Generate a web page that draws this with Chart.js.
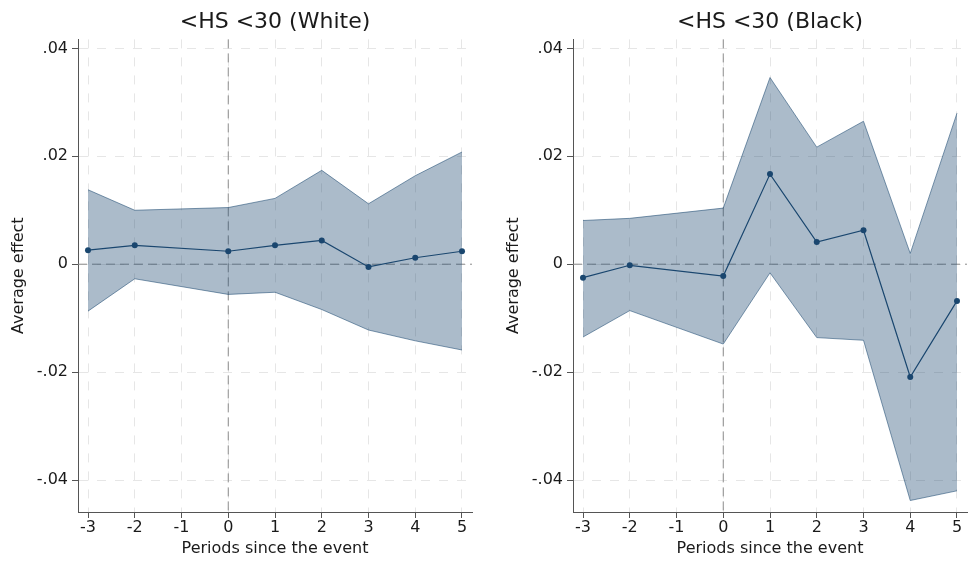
<!DOCTYPE html>
<html>
<head>
<meta charset="utf-8">
<script src="https://cdn.jsdelivr.net/npm/chart.js@4"></script>
<style>
  body { margin: 0; background: #fff; overflow: hidden; }
  .panel { position: absolute; top: 0; width: 476px; height: 563px; }
  #leftPanel { left: 0; }
  #rightPanel { left: 495px; }
</style>
</head>
<body>
<div class="panel" id="leftPanel"><canvas id="whiteChart" width="476" height="563"></canvas></div>
<div class="panel" id="rightPanel"><canvas id="blackChart" width="476" height="563"></canvas></div>
<script>
// Event-study estimates, period -1 is the omitted reference period
const periods = [-3, -2, 0, 1, 2, 3, 4, 5];
const xTicks = [-3, -2, -1, 0, 1, 2, 3, 4, 5];
const yTicks = [-0.04, -0.02, 0, 0.02, 0.04];
const yTickLabels = ['-.04', '-.02', '0', '.02', '.04'];

// <HS <30 (White)
const whiteEst = [0.0026, 0.0035, 0.0024, 0.0035, 0.0044, -0.0005, 0.0012, 0.0024];
const whiteLo = [-0.0087, -0.0027, -0.0056, -0.0052, -0.0084, -0.0122, -0.0142, -0.0159];
const whiteHi = [0.0138, 0.0100, 0.0105, 0.0122, 0.0174, 0.0112, 0.0164, 0.0208];

// <HS <30 (Black)
const blackEst = [-0.0025, -0.0002, -0.0022, 0.0167, 0.0041, 0.0063, -0.0209, -0.0068];
const blackLo = [-0.0135, -0.0086, -0.0148, -0.0016, -0.0136, -0.0141, -0.0438, -0.0420];
const blackHi = [0.0081, 0.0085, 0.0104, 0.0346, 0.0217, 0.0265, 0.0020, 0.0280];

const navy = 'rgb(26, 71, 111)';
const bandFill = 'rgba(26, 71, 111, 0.37)';
const bandEdge = 'rgba(26, 71, 111, 0.55)';
const font = '"DejaVu Sans", sans-serif';
const textColor = '#1a1a1a';

// dashed reference lines at x = 0 and y = 0
const refLines = {
    id: 'refLines',
    beforeDatasetsDraw(chart) {
        const { ctx, chartArea, scales } = chart;
        const x0 = scales.x.getPixelForValue(0);
        const y0 = scales.y.getPixelForValue(0);
        ctx.save();
        ctx.strokeStyle = '#8c8c8c';
        ctx.lineWidth = 1;
        ctx.setLineDash([9, 5]);
        ctx.beginPath();
        ctx.moveTo(chartArea.left, y0);
        ctx.lineTo(chartArea.right, y0);
        ctx.moveTo(x0, chartArea.top);
        ctx.lineTo(x0, chartArea.bottom);
        ctx.stroke();
        ctx.restore();
    }
};

function points(ys) {
    return periods.map((x, i) => ({ x: x, y: ys[i] }));
}

function makeChart(id, title, est, lo, hi) {
    return new Chart(document.getElementById(id), {
        type: 'line',
        data: {
            datasets: [
                {
                    data: points(hi),
                    borderColor: bandEdge,
                    borderWidth: 1,
                    backgroundColor: bandFill,
                    pointRadius: 0,
                    fill: '+1',
                },
                {
                    data: points(lo),
                    borderColor: bandEdge,
                    borderWidth: 1,
                    pointRadius: 0,
                    fill: false,
                },
                {
                    data: points(est),
                    borderColor: navy,
                    borderWidth: 1.2,
                    pointRadius: 3,
                    pointBackgroundColor: navy,
                    pointBorderWidth: 0,
                    fill: false,
                }
            ]
        },
        options: {
            responsive: false,
            animation: false,
            layout: { padding: { left: 0, right: 0, top: 0, bottom: 0 } },
            plugins: {
                legend: { display: false },
                tooltip: { enabled: false },
                title: {
                    display: true,
                    text: title,
                    fullSize: false,
                    color: textColor,
                    font: { family: font, size: 22, weight: 'normal' },
                    padding: { top: 9, bottom: 4 }
                }
            },
            scales: {
                x: {
                    type: 'linear',
                    min: -3.214,
                    max: 5.214,
                    afterBuildTicks: s => { s.ticks = xTicks.map(v => ({ value: v })); },
                    afterFit: s => {
                        s.height = 51;
                        s.paddingLeft = 0;
                        s.paddingRight = 0;
                    },
                    ticks: {
                        color: textColor,
                        padding: 0,
                        font: { family: font, size: 16 },
                        callback: v => String(v)
                    },
                    grid: {
                        color: '#e6e6e6',
                        tickColor: '#555',
                        tickLength: 6,
                        tickBorderDash: []
                    },
                    border: { color: '#555', width: 1, dash: [9, 9] },
                    title: {
                        display: true,
                        text: 'Periods since the event',
                        color: textColor,
                        font: { family: font, size: 16 },
                        padding: { top: 0, bottom: 5 }
                    }
                },
                y: {
                    type: 'linear',
                    min: -0.04593,
                    max: 0.04167,
                    afterBuildTicks: s => { s.ticks = yTicks.map(v => ({ value: v })); },
                    afterFit: s => { s.width = 78; },
                    ticks: {
                        color: textColor,
                        padding: 4,
                        font: { family: font, size: 16 },
                        callback: (v, i) => yTickLabels[i]
                    },
                    grid: {
                        color: '#e6e6e6',
                        tickColor: '#555',
                        tickLength: 6,
                        tickBorderDash: []
                    },
                    border: { color: '#555', width: 1, dash: [9, 9] },
                    title: {
                        display: true,
                        text: 'Average effect',
                        color: textColor,
                        font: { family: font, size: 16 },
                        padding: { top: 9, bottom: 0 }
                    }
                }
            }
        },
        plugins: [refLines]
    });
}

makeChart('whiteChart', '<HS <30 (White)', whiteEst, whiteLo, whiteHi);
makeChart('blackChart', '<HS <30 (Black)', blackEst, blackLo, blackHi);
</script>
</body>
</html>
